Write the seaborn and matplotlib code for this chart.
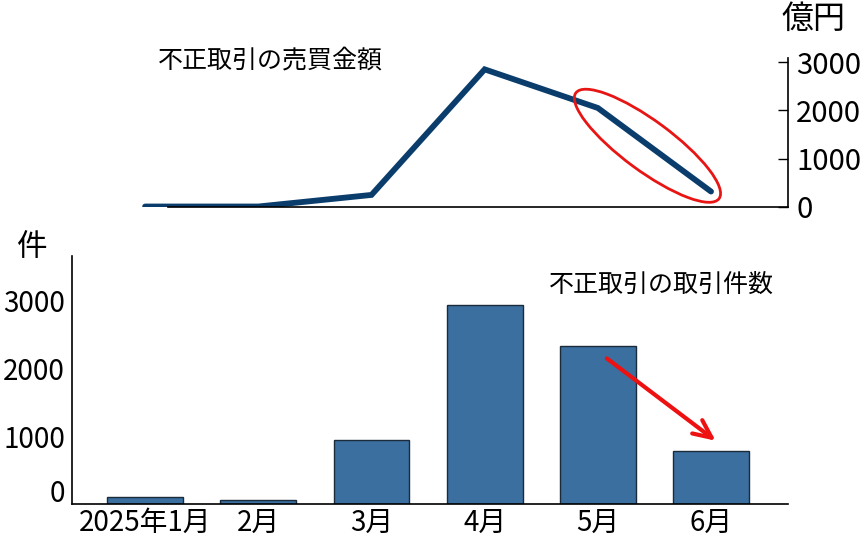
import numpy as np
import pandas as pd
import matplotlib
matplotlib.use("Agg")
import matplotlib.pyplot as plt
import seaborn as sns
from matplotlib.patches import Ellipse
from matplotlib.transforms import ScaledTranslation

# ---- data ----
months = ["2025年1月", "2月", "3月", "4月", "5月", "6月"]
amount_oku = [10, 10, 250, 2850, 2050, 320]      # 不正取引の売買金額 (億円)
count_cases = [100, 65, 945, 2940, 2330, 785]    # 不正取引の取引件数 (件)
amount_ticks = [0, 1000, 2000, 3000]
count_ticks = [0, 1000, 2000, 3000]

sns.set_style("white")
plt.rcParams['font.family'] = ['Noto Sans CJK JP', 'DejaVu Sans']
plt.rcParams['text.color'] = 'black'

LINE_C = "#0b3d6c"
BAR_C = "#3a6f9f"

fig = plt.figure(figsize=(8.61, 5.41), dpi=100)
ax_b = fig.add_axes([72/861, 37/541, 716/861, 248/541])
ax_t = fig.add_axes([72/861, 334/541, 716/861, 149/541])

xlim = (-0.646, 5.68)

# ---- bottom: bars ----
df = pd.DataFrame({"month": months, "count": count_cases})
sns.barplot(data=df, x="month", y="count", color=BAR_C, saturation=1,
            edgecolor="#1c2b3a", linewidth=1.0, width=0.67, ax=ax_b)
ax_b.set_xlim(*xlim)
ax_b.set_ylim(0, 3663)
ax_b.set_yticks(count_ticks)
ax_b.set_xlabel("")
ax_b.set_ylabel("")
for s in ["top", "right"]:
    ax_b.spines[s].set_visible(False)
for s in ["left", "bottom"]:
    ax_b.spines[s].set_color("black")
    ax_b.spines[s].set_linewidth(1.2)
ax_b.tick_params(axis="y", direction="in", length=7, width=1, pad=5,
                 labelsize=20, colors="black")
ax_b.tick_params(axis="x", length=0, pad=3, labelsize=20, colors="black")
# lift the "0" label a little as in the reference
lbl0 = ax_b.get_yticklabels()[0]
lbl0.set_transform(lbl0.get_transform() + ScaledTranslation(0, 0.13, fig.dpi_scale_trans))
ax_b.text(-0.056, 1.036, "件", transform=ax_b.transAxes, fontsize=22,
          ha="center", va="center", color="black")
ax_b.text(4.56, 3235, "不正取引の取引件数", fontsize=18, ha="center", va="center",
          color="black")
ax_b.annotate("", xy=(5.06, 910), xytext=(4.06, 2175),
              arrowprops=dict(arrowstyle="->,head_length=1.3,head_width=0.6",
                              color="#ee1111", lw=3))

# ---- top: line ----
xpos = np.arange(len(months))
sns.lineplot(x=xpos, y=amount_oku, color=LINE_C, linewidth=4.2, ax=ax_t,
             solid_capstyle="round", solid_joinstyle="miter")
ax_t.set_xlim(*xlim)
ax_t.set_ylim(0, 3085)
ax_t.set_xticks([])
ax_t.yaxis.tick_right()
ax_t.set_yticks(amount_ticks)
for s in ["top", "left"]:
    ax_t.spines[s].set_visible(False)
for s in ["right", "bottom"]:
    ax_t.spines[s].set_color("black")
    ax_t.spines[s].set_linewidth(1.2)
ax_t.spines["bottom"].set_bounds(0.2, xlim[1])
ax_t.tick_params(axis="y", direction="in", length=7, width=1, pad=6,
                 labelsize=21, colors="black", right=True, left=False)
ax_t.text(1.036, 1.26, "億円", transform=ax_t.transAxes, fontsize=23,
          ha="center", va="center", color="black")
ax_t.text(1.106, 3040, "不正取引の売買金額", fontsize=18, ha="center", va="center",
          color="black")

# ellipse around the May -> June decline
fig.canvas.draw()
p4 = ax_t.transData.transform((4, amount_oku[4]))
p5 = ax_t.transData.transform((5, amount_oku[5]))
cx, cy = (p4 + p5) / 2 / fig.dpi
ang = np.degrees(np.arctan2(p5[1] - p4[1], p5[0] - p4[0]))
ell = Ellipse((cx - 0.07, cy + 0.04), width=1.78, height=0.50, angle=ang,
              transform=fig.dpi_scale_trans, fill=False, edgecolor="#e81515", lw=2.0)
fig.add_artist(ell)

fig.savefig("out.png", dpi=100)
